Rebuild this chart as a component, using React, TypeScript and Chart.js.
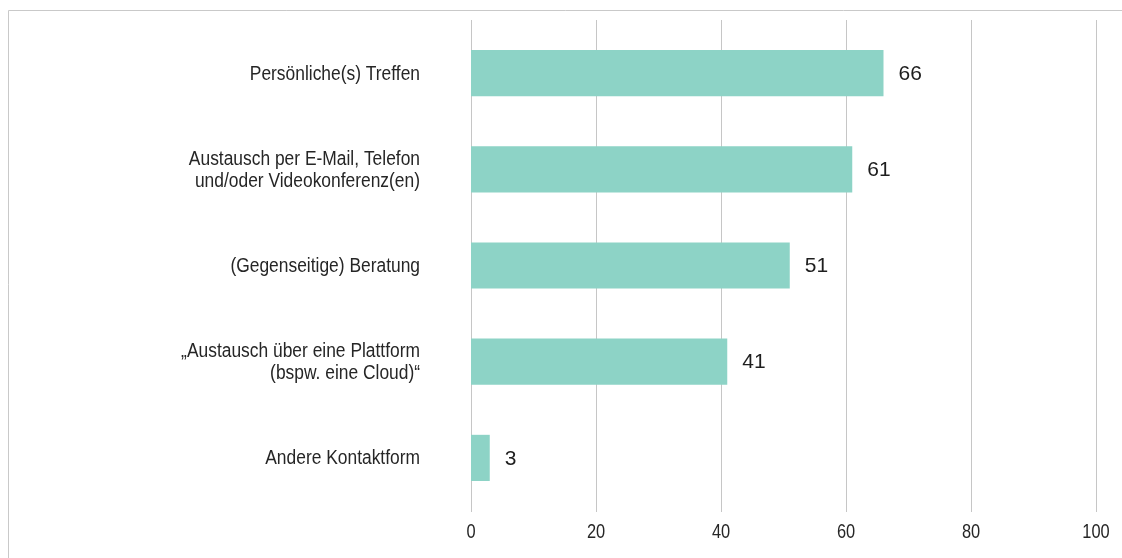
import React, { useEffect, useRef } from "react";
import { Chart, registerables } from "chart.js";

Chart.register(...registerables);

const categories: (string | string[])[] = [
  "Persönliche(s) Treffen",
  ["Austausch per E-Mail, Telefon", "und/oder Videokonferenz(en)"],
  "(Gegenseitige) Beratung",
  ["„Austausch über eine Plattform", "(bspw. eine Cloud)“"],
  "Andere Kontaktform",
];
const values: number[] = [66, 61, 51, 41, 3];
const xTicks: number[] = [0, 20, 40, 60, 80, 100];

const REG = "'Liberation Sans', Arial, sans-serif";

export default function App() {
  const ref = useRef<HTMLCanvasElement | null>(null);
  useEffect(() => {
    if (!ref.current) return;
    const drawNarrow = (ctx: any, text: string, x: number, y: number, align: string, sx: number) => {
      ctx.save();
      ctx.translate(x, y);
      ctx.scale(sx, 1);
      ctx.textAlign = align;
      ctx.textBaseline = "middle";
      ctx.fillText(text, 0, 0);
      ctx.restore();
    };
    const framePlugin = {
      id: "frameAndGrid",
      beforeDatasetsDraw(chart: any) {
        const ctx = chart.ctx;
        const xs = chart.scales.x;
        const ys = chart.scales.y;
        ctx.save();
        ctx.strokeStyle = "#c9c9c9";
        ctx.lineWidth = 1;
        ctx.beginPath();
        ctx.moveTo(8.5, 558);
        ctx.lineTo(8.5, 10.5);
        ctx.lineTo(1122, 10.5);
        ctx.stroke();
        ctx.strokeStyle = "#c6c6c6";
        xs.ticks.forEach((t: any) => {
          const px = Math.round(xs.getPixelForValue(t.value)) + 0.5;
          ctx.beginPath();
          ctx.moveTo(px, 20);
          ctx.lineTo(px, 512);
          ctx.stroke();
        });
        // axis labels (condensed rendering of the scale's own ticks)
        ctx.fillStyle = "#262626";
        ctx.font = "20px " + REG;
        xs.ticks.forEach((t: any, i: number) => {
          drawNarrow(ctx, String(t.value), xs.getPixelForTick(i), 532, "center", 0.82);
        });
        const labelRight = ys.right - 51;
        ys.ticks.forEach((_t: any, i: number) => {
          const lab = ys.getLabelForValue(i);
          const raw = categories[i];
          const lines = Array.isArray(raw) ? raw : [String(lab)];
          const cy = ys.getPixelForTick(i) + 1;
          const lh = 22;
          const y0 = cy - ((lines.length - 1) * lh) / 2;
          lines.forEach((ln, k) => {
            drawNarrow(ctx, ln, labelRight, y0 + k * lh, "right", 0.87);
          });
        });
        ctx.restore();
      },
      afterDatasetsDraw(chart: any) {
        const ctx = chart.ctx;
        const meta = chart.getDatasetMeta(0);
        ctx.save();
        ctx.fillStyle = "#1e1e1e";
        ctx.font = "21px " + REG;
        ctx.textAlign = "left";
        ctx.textBaseline = "middle";
        meta.data.forEach((bar: any, i: number) => {
          ctx.fillText(String(values[i]), bar.x + 15, bar.y + 1);
        });
        ctx.restore();
      },
    };
    const chart = new Chart(ref.current, {
      type: "bar",
      data: {
        labels: categories,
        datasets: [
          {
            data: values,
            backgroundColor: "#8dd3c6",
            borderWidth: 0,
            categoryPercentage: 1,
            barPercentage: 0.48,
          },
        ],
      },
      options: {
        indexAxis: "y",
        responsive: false,
        animation: false,
        events: [],
        layout: { padding: { top: 25, right: 26, left: 0, bottom: 0 } },
        plugins: { legend: { display: false }, tooltip: { enabled: false } },
        scales: {
          x: {
            min: 0,
            max: 100,
            afterBuildTicks: (s: any) => {
              s.ticks = xTicks.map((v) => ({ value: v }));
            },
            afterFit: (s: any) => {
              s.height = 52;
              s.paddingLeft = 0;
              s.paddingRight = 0;
            },
            grid: { display: false },
            border: { display: false },
            ticks: { display: false },
          },
          y: {
            afterFit: (s: any) => {
              s.width = 471;
              s.paddingTop = 0;
              s.paddingBottom = 0;
            },
            grid: { display: false },
            border: { display: false },
            ticks: { display: false },
          },
        },
      },
      plugins: [framePlugin],
    });
    return () => chart.destroy();
  }, []);
  return (
    <div style={{ position: "fixed", left: 0, top: 0, width: 1122, height: 558, background: "#fff" }}>
      <canvas ref={ref} width={1122} height={558} style={{ display: "block" }} />
    </div>
  );
}
